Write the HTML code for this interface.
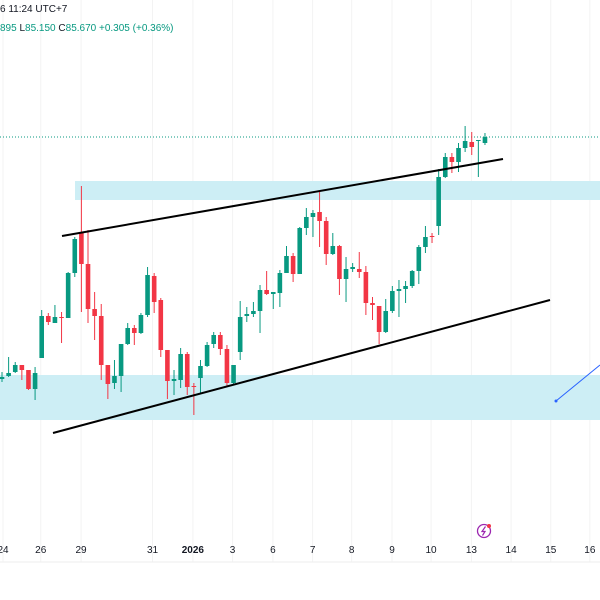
<!DOCTYPE html>
<html><head><meta charset="utf-8"><style>
html,body{margin:0;padding:0;background:#fff;width:600px;height:600px;overflow:hidden;font-family:"Liberation Sans",sans-serif;}
svg{position:absolute;left:0;top:0}
</style></head><body>
<svg id="chart" width="600" height="600">
<g id="grid"></g>
<rect x="75" y="181" width="525" height="19" fill="#cdeef5"/>
<rect x="0" y="375" width="600" height="45" fill="#cdeef5"/>
<line x1="0" y1="137" x2="600" y2="137" stroke="#089981" stroke-width="1" stroke-dasharray="1,2"/>
<g id="candles"></g>
<line x1="62" y1="236" x2="503" y2="159" stroke="#000" stroke-width="2"/>
<line x1="53" y1="433" x2="550" y2="300" stroke="#000" stroke-width="2"/>
<line x1="556" y1="401" x2="600" y2="365" stroke="#2962ff" stroke-width="1"/>
<circle cx="556" cy="401" r="1.5" fill="#2962ff"/>
<line x1="0" y1="562" x2="600" y2="562" stroke="#eee"/>
<g id="xaxis"></g>
<g>
<circle cx="484" cy="531" r="6.5" fill="none" stroke="#9c27b0" stroke-width="1.3"/>
<path d="M485.5 526.5 L482 531.5 L485 531.5 L482.5 535.5" fill="none" stroke="#9c27b0" stroke-width="1.2"/>
<circle cx="489" cy="526" r="2" fill="#f23645"/>
</g>
<text x="0" y="12" font-size="10" fill="#131722">6 11:24 UTC+7</text>
<text x="0" y="31" font-size="10" fill="#089981">895 <tspan fill="#131722">L</tspan>85.150 <tspan fill="#131722">C</tspan>85.670 +0.305 (+0.36%)</text>
</svg>
<script>
const opens=[62.1,62.4,62.8,63.5,63.0,61.1,64.2,68.4,67.7,68.3,68.2,72.7,76.8,73.6,69.1,68.4,63.5,61.7,62.4,65.6,67.2,66.7,68.5,72.4,70.0,65.0,61.9,62.0,64.6,61.4,62.2,63.4,65.6,66.5,65.1,61.7,64.8,68.4,68.6,68.9,71.0,70.6,70.7,72.7,74.4,72.6,77.2,78.3,78.8,77.9,74.6,75.4,72.1,73.1,73.1,72.8,69.7,69.4,66.8,68.9,70.9,71.1,71.4,72.9,75.3,76.4,77.4,82.3,84.3,83.8,85.2,85.8,85.9,85.7];
const highs=[62.8,64.3,63.8,63.5,63.0,63.3,69.0,68.7,69.5,68.8,72.8,76.3,81.4,77.0,70.8,69.6,63.5,64.0,65.6,67.7,67.5,68.7,73.3,72.7,70.2,65.0,63.0,65.2,64.8,61.7,64.0,65.8,66.8,66.8,65.5,63.5,69.9,69.3,69.8,71.5,72.9,70.8,73.0,75.4,74.7,77.3,79.2,79.0,80.9,78.3,76.7,75.5,74.3,73.7,74.8,73.4,70.3,69.4,70.1,71.4,72.0,71.9,73.0,75.5,77.4,76.7,83.1,84.7,84.7,85.7,87.4,86.8,86.0,86.7];
const lows=[61.8,62.3,62.7,62.0,61.0,60.0,64.2,67.5,67.7,65.7,68.2,72.3,68.8,67.7,66.0,62.0,60.1,61.1,60.8,65.5,65.5,66.6,68.3,68.7,64.3,60.1,60.5,61.2,60.5,58.5,60.7,63.3,65.2,64.5,61.3,61.6,64.0,67.8,68.3,66.7,70.5,69.1,69.3,72.7,71.8,72.6,76.5,76.3,75.3,73.5,74.5,70.5,69.8,72.8,72.2,68.5,68.0,65.6,66.7,68.7,68.3,69.7,71.2,71.6,74.7,75.7,76.5,82.2,82.7,82.8,84.8,84.5,82.3,85.5];
const closes=[62.3,62.7,63.5,63.0,61.1,62.7,68.4,67.8,68.3,68.2,72.7,76.1,73.6,69.1,68.4,63.5,61.6,62.4,65.6,67.2,66.7,68.5,72.5,69.8,65.0,61.9,62.1,64.6,61.3,61.3,63.4,65.5,66.5,65.1,61.7,63.5,68.3,68.6,68.9,71.0,70.6,70.8,72.7,74.4,72.6,77.2,78.3,78.7,77.9,74.6,75.4,72.1,73.1,73.3,72.8,69.7,69.5,66.8,68.9,70.9,71.1,71.4,72.9,75.3,76.3,76.3,82.3,84.3,83.8,85.2,85.9,85.3,86.0,86.3];
const tickLabels=["24","26","29","31","2026","3","6","7","8","9","10","13","14","15","16"];
const tickIndex=[0,5.7,11.8,22.6,28.7,34.7,40.8,46.8,52.7,58.8,64.7,70.8,76.8,82.8,88.7];

const NS="http://www.w3.org/2000/svg";
const x0=2, step=6.616;
function xScale(i){return x0+i*step;}
function yScale(p){return (100-p)*10;}
const cg=document.getElementById('candles');
for(let i=0;i<opens.length;i++){
  const up=closes[i]>=opens[i];
  const col=up?'#089981':'#f23645';
  const x=xScale(i);
  const w=document.createElementNS(NS,'line');
  w.setAttribute('x1',x);w.setAttribute('x2',x);
  w.setAttribute('y1',yScale(highs[i]));w.setAttribute('y2',yScale(lows[i]));
  w.setAttribute('stroke',col);w.setAttribute('stroke-width','1');
  
  
  cg.appendChild(w);
  const r=document.createElementNS(NS,'rect');
  const t=yScale(Math.max(opens[i],closes[i])), b=yScale(Math.min(opens[i],closes[i]));
  r.setAttribute('x',x-2.3);r.setAttribute('width',4.6);
  r.setAttribute('y',t);r.setAttribute('height',Math.max(1,b-t));
  r.setAttribute('fill',col);
  
  
  cg.appendChild(r);
}
const gg=document.getElementById('grid'), xa=document.getElementById('xaxis');
for(let k=0;k<tickLabels.length;k++){
  const x=xScale(tickIndex[k])+1;
  const l=document.createElementNS(NS,'line');
  l.setAttribute('x1',x);l.setAttribute('x2',x);l.setAttribute('y1',0);l.setAttribute('y2',562);
  l.setAttribute('stroke','#f3f3f3');
  
  
  gg.appendChild(l);
  const t=document.createElementNS(NS,'text');
  t.setAttribute('x',x);t.setAttribute('y',553);t.setAttribute('text-anchor','middle');
  t.setAttribute('font-size','10');t.setAttribute('fill','#131722');
  if(tickLabels[k]==="2026") t.setAttribute('font-weight','bold');
  t.textContent=tickLabels[k];
  
  
  xa.appendChild(t);
}
</script>
</body></html>
